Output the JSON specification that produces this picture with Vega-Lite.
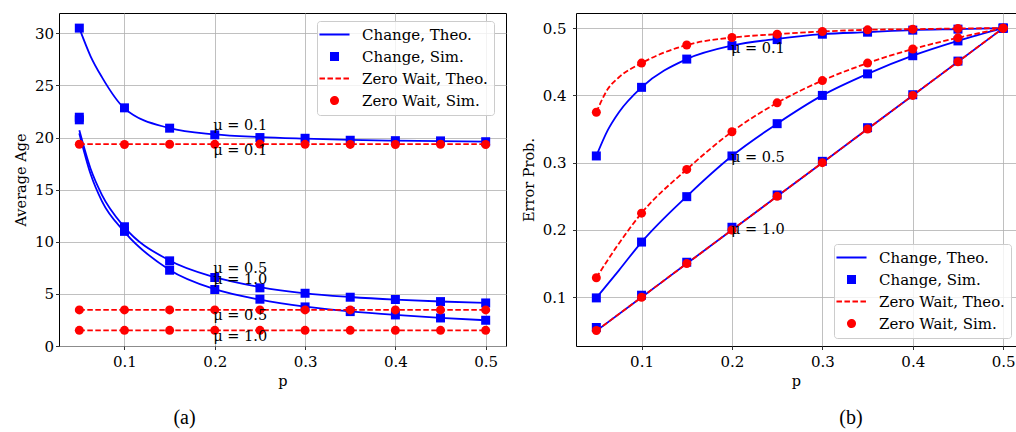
{
"$schema": "https://vega.github.io/schema/vega-lite/v6.json",
"background": "white",
"padding": {"left": 12, "right": 0, "top": 12, "bottom": 0},
"spacing": 13,
"datasets": {
"age": [
{"s":"Change, Theo.","mu":"0.1","p":0.05,"v":30.5},{"s":"Change, Theo.","mu":"0.1","p":0.0625,"v":27.8},{"s":"Change, Theo.","mu":"0.1","p":0.075,"v":25.8},{"s":"Change, Theo.","mu":"0.1","p":0.1,"v":22.8},{"s":"Change, Theo.","mu":"0.1","p":0.15,"v":20.9},{"s":"Change, Theo.","mu":"0.1","p":0.2,"v":20.3},{"s":"Change, Theo.","mu":"0.1","p":0.25,"v":20.05},{"s":"Change, Theo.","mu":"0.1","p":0.3,"v":19.9},{"s":"Change, Theo.","mu":"0.1","p":0.35,"v":19.78},{"s":"Change, Theo.","mu":"0.1","p":0.4,"v":19.7},{"s":"Change, Theo.","mu":"0.1","p":0.45,"v":19.65},{"s":"Change, Theo.","mu":"0.1","p":0.5,"v":19.6},
{"s":"Change, Theo.","mu":"0.5","p":0.05,"v":20.7},{"s":"Change, Theo.","mu":"0.5","p":0.0625,"v":17.0},{"s":"Change, Theo.","mu":"0.5","p":0.075,"v":14.5},{"s":"Change, Theo.","mu":"0.5","p":0.1,"v":11.4},{"s":"Change, Theo.","mu":"0.5","p":0.15,"v":8.2},{"s":"Change, Theo.","mu":"0.5","p":0.2,"v":6.6},{"s":"Change, Theo.","mu":"0.5","p":0.25,"v":5.65},{"s":"Change, Theo.","mu":"0.5","p":0.3,"v":5.05},{"s":"Change, Theo.","mu":"0.5","p":0.35,"v":4.7},{"s":"Change, Theo.","mu":"0.5","p":0.4,"v":4.45},{"s":"Change, Theo.","mu":"0.5","p":0.45,"v":4.27},{"s":"Change, Theo.","mu":"0.5","p":0.5,"v":4.13},
{"s":"Change, Theo.","mu":"1.0","p":0.05,"v":20.4},{"s":"Change, Theo.","mu":"1.0","p":0.0625,"v":16.5},{"s":"Change, Theo.","mu":"1.0","p":0.075,"v":13.9},{"s":"Change, Theo.","mu":"1.0","p":0.1,"v":10.95},{"s":"Change, Theo.","mu":"1.0","p":0.15,"v":7.3},{"s":"Change, Theo.","mu":"1.0","p":0.2,"v":5.45},{"s":"Change, Theo.","mu":"1.0","p":0.25,"v":4.45},{"s":"Change, Theo.","mu":"1.0","p":0.3,"v":3.78},{"s":"Change, Theo.","mu":"1.0","p":0.35,"v":3.32},{"s":"Change, Theo.","mu":"1.0","p":0.4,"v":2.98},{"s":"Change, Theo.","mu":"1.0","p":0.45,"v":2.7},{"s":"Change, Theo.","mu":"1.0","p":0.5,"v":2.47},
{"s":"Change, Sim.","mu":"0.1","p":0.05,"v":30.5},{"s":"Change, Sim.","mu":"0.1","p":0.1,"v":22.85},{"s":"Change, Sim.","mu":"0.1","p":0.15,"v":20.9},{"s":"Change, Sim.","mu":"0.1","p":0.2,"v":20.26},{"s":"Change, Sim.","mu":"0.1","p":0.25,"v":20.0},{"s":"Change, Sim.","mu":"0.1","p":0.3,"v":19.93},{"s":"Change, Sim.","mu":"0.1","p":0.35,"v":19.74},{"s":"Change, Sim.","mu":"0.1","p":0.4,"v":19.7},{"s":"Change, Sim.","mu":"0.1","p":0.45,"v":19.68},{"s":"Change, Sim.","mu":"0.1","p":0.5,"v":19.6},
{"s":"Change, Sim.","mu":"0.5","p":0.05,"v":21.95},{"s":"Change, Sim.","mu":"0.5","p":0.1,"v":11.44},{"s":"Change, Sim.","mu":"0.5","p":0.15,"v":8.17},{"s":"Change, Sim.","mu":"0.5","p":0.2,"v":6.57},{"s":"Change, Sim.","mu":"0.5","p":0.25,"v":5.58},{"s":"Change, Sim.","mu":"0.5","p":0.3,"v":5.06},{"s":"Change, Sim.","mu":"0.5","p":0.35,"v":4.68},{"s":"Change, Sim.","mu":"0.5","p":0.4,"v":4.46},{"s":"Change, Sim.","mu":"0.5","p":0.45,"v":4.26},{"s":"Change, Sim.","mu":"0.5","p":0.5,"v":4.13},
{"s":"Change, Sim.","mu":"1.0","p":0.05,"v":21.7},{"s":"Change, Sim.","mu":"1.0","p":0.1,"v":11.0},{"s":"Change, Sim.","mu":"1.0","p":0.15,"v":7.27},{"s":"Change, Sim.","mu":"1.0","p":0.2,"v":5.42},{"s":"Change, Sim.","mu":"1.0","p":0.25,"v":4.49},{"s":"Change, Sim.","mu":"1.0","p":0.3,"v":3.75},{"s":"Change, Sim.","mu":"1.0","p":0.35,"v":3.3},{"s":"Change, Sim.","mu":"1.0","p":0.4,"v":2.98},{"s":"Change, Sim.","mu":"1.0","p":0.45,"v":2.69},{"s":"Change, Sim.","mu":"1.0","p":0.5,"v":2.47},
{"s":"Zero Wait, Theo.","mu":"0.1","p":0.05,"v":19.36},{"s":"Zero Wait, Theo.","mu":"0.1","p":0.5,"v":19.36},
{"s":"Zero Wait, Theo.","mu":"0.5","p":0.05,"v":3.46},{"s":"Zero Wait, Theo.","mu":"0.5","p":0.5,"v":3.46},
{"s":"Zero Wait, Theo.","mu":"1.0","p":0.05,"v":1.5},{"s":"Zero Wait, Theo.","mu":"1.0","p":0.5,"v":1.5},
{"s":"Zero Wait, Sim.","mu":"0.1","p":0.05,"v":19.36},{"s":"Zero Wait, Sim.","mu":"0.1","p":0.1,"v":19.33},{"s":"Zero Wait, Sim.","mu":"0.1","p":0.15,"v":19.36},{"s":"Zero Wait, Sim.","mu":"0.1","p":0.2,"v":19.35},{"s":"Zero Wait, Sim.","mu":"0.1","p":0.25,"v":19.37},{"s":"Zero Wait, Sim.","mu":"0.1","p":0.3,"v":19.35},{"s":"Zero Wait, Sim.","mu":"0.1","p":0.35,"v":19.34},{"s":"Zero Wait, Sim.","mu":"0.1","p":0.4,"v":19.33},{"s":"Zero Wait, Sim.","mu":"0.1","p":0.45,"v":19.36},{"s":"Zero Wait, Sim.","mu":"0.1","p":0.5,"v":19.33},
{"s":"Zero Wait, Sim.","mu":"0.5","p":0.05,"v":3.46},{"s":"Zero Wait, Sim.","mu":"0.5","p":0.1,"v":3.46},{"s":"Zero Wait, Sim.","mu":"0.5","p":0.15,"v":3.46},{"s":"Zero Wait, Sim.","mu":"0.5","p":0.2,"v":3.46},{"s":"Zero Wait, Sim.","mu":"0.5","p":0.25,"v":3.46},{"s":"Zero Wait, Sim.","mu":"0.5","p":0.3,"v":3.46},{"s":"Zero Wait, Sim.","mu":"0.5","p":0.35,"v":3.46},{"s":"Zero Wait, Sim.","mu":"0.5","p":0.4,"v":3.46},{"s":"Zero Wait, Sim.","mu":"0.5","p":0.45,"v":3.46},{"s":"Zero Wait, Sim.","mu":"0.5","p":0.5,"v":3.46},
{"s":"Zero Wait, Sim.","mu":"1.0","p":0.05,"v":1.5},{"s":"Zero Wait, Sim.","mu":"1.0","p":0.1,"v":1.5},{"s":"Zero Wait, Sim.","mu":"1.0","p":0.15,"v":1.5},{"s":"Zero Wait, Sim.","mu":"1.0","p":0.2,"v":1.5},{"s":"Zero Wait, Sim.","mu":"1.0","p":0.25,"v":1.5},{"s":"Zero Wait, Sim.","mu":"1.0","p":0.3,"v":1.5},{"s":"Zero Wait, Sim.","mu":"1.0","p":0.35,"v":1.5},{"s":"Zero Wait, Sim.","mu":"1.0","p":0.4,"v":1.5},{"s":"Zero Wait, Sim.","mu":"1.0","p":0.45,"v":1.5},{"s":"Zero Wait, Sim.","mu":"1.0","p":0.5,"v":1.5}
],
"err": [
{"s":"Change, Theo.","mu":"0.1","p":0.05,"v":0.31},{"s":"Change, Theo.","mu":"0.1","p":0.0625,"v":0.348},{"s":"Change, Theo.","mu":"0.1","p":0.075,"v":0.375},{"s":"Change, Theo.","mu":"0.1","p":0.1,"v":0.412},{"s":"Change, Theo.","mu":"0.1","p":0.15,"v":0.454},{"s":"Change, Theo.","mu":"0.1","p":0.2,"v":0.474},{"s":"Change, Theo.","mu":"0.1","p":0.25,"v":0.484},{"s":"Change, Theo.","mu":"0.1","p":0.3,"v":0.491},{"s":"Change, Theo.","mu":"0.1","p":0.35,"v":0.494},{"s":"Change, Theo.","mu":"0.1","p":0.4,"v":0.497},{"s":"Change, Theo.","mu":"0.1","p":0.45,"v":0.4985},{"s":"Change, Theo.","mu":"0.1","p":0.5,"v":0.5},
{"s":"Change, Theo.","mu":"0.5","p":0.05,"v":0.099},{"s":"Change, Theo.","mu":"0.5","p":0.075,"v":0.14},{"s":"Change, Theo.","mu":"0.5","p":0.1,"v":0.182},{"s":"Change, Theo.","mu":"0.5","p":0.15,"v":0.25},{"s":"Change, Theo.","mu":"0.5","p":0.2,"v":0.31},{"s":"Change, Theo.","mu":"0.5","p":0.25,"v":0.358},{"s":"Change, Theo.","mu":"0.5","p":0.3,"v":0.4},{"s":"Change, Theo.","mu":"0.5","p":0.35,"v":0.432},{"s":"Change, Theo.","mu":"0.5","p":0.4,"v":0.459},{"s":"Change, Theo.","mu":"0.5","p":0.45,"v":0.481},{"s":"Change, Theo.","mu":"0.5","p":0.5,"v":0.5},
{"s":"Change, Theo.","mu":"1.0","p":0.05,"v":0.05},{"s":"Change, Theo.","mu":"1.0","p":0.1,"v":0.1},{"s":"Change, Theo.","mu":"1.0","p":0.15,"v":0.15},{"s":"Change, Theo.","mu":"1.0","p":0.2,"v":0.2},{"s":"Change, Theo.","mu":"1.0","p":0.25,"v":0.25},{"s":"Change, Theo.","mu":"1.0","p":0.3,"v":0.3},{"s":"Change, Theo.","mu":"1.0","p":0.35,"v":0.35},{"s":"Change, Theo.","mu":"1.0","p":0.4,"v":0.4},{"s":"Change, Theo.","mu":"1.0","p":0.45,"v":0.45},{"s":"Change, Theo.","mu":"1.0","p":0.5,"v":0.5},
{"s":"Change, Sim.","mu":"0.1","p":0.05,"v":0.31},{"s":"Change, Sim.","mu":"0.1","p":0.1,"v":0.412},{"s":"Change, Sim.","mu":"0.1","p":0.15,"v":0.454},{"s":"Change, Sim.","mu":"0.1","p":0.2,"v":0.474},{"s":"Change, Sim.","mu":"0.1","p":0.25,"v":0.483},{"s":"Change, Sim.","mu":"0.1","p":0.3,"v":0.491},{"s":"Change, Sim.","mu":"0.1","p":0.35,"v":0.494},{"s":"Change, Sim.","mu":"0.1","p":0.4,"v":0.497},{"s":"Change, Sim.","mu":"0.1","p":0.45,"v":0.4985},{"s":"Change, Sim.","mu":"0.1","p":0.5,"v":0.5},
{"s":"Change, Sim.","mu":"0.5","p":0.05,"v":0.099},{"s":"Change, Sim.","mu":"0.5","p":0.1,"v":0.182},{"s":"Change, Sim.","mu":"0.5","p":0.15,"v":0.2495},{"s":"Change, Sim.","mu":"0.5","p":0.2,"v":0.31},{"s":"Change, Sim.","mu":"0.5","p":0.25,"v":0.358},{"s":"Change, Sim.","mu":"0.5","p":0.3,"v":0.4},{"s":"Change, Sim.","mu":"0.5","p":0.35,"v":0.432},{"s":"Change, Sim.","mu":"0.5","p":0.4,"v":0.459},{"s":"Change, Sim.","mu":"0.5","p":0.45,"v":0.481},{"s":"Change, Sim.","mu":"0.5","p":0.5,"v":0.5},
{"s":"Change, Sim.","mu":"1.0","p":0.05,"v":0.055},{"s":"Change, Sim.","mu":"1.0","p":0.1,"v":0.103},{"s":"Change, Sim.","mu":"1.0","p":0.15,"v":0.152},{"s":"Change, Sim.","mu":"1.0","p":0.2,"v":0.204},{"s":"Change, Sim.","mu":"1.0","p":0.25,"v":0.252},{"s":"Change, Sim.","mu":"1.0","p":0.3,"v":0.302},{"s":"Change, Sim.","mu":"1.0","p":0.35,"v":0.352},{"s":"Change, Sim.","mu":"1.0","p":0.4,"v":0.401},{"s":"Change, Sim.","mu":"1.0","p":0.45,"v":0.451},{"s":"Change, Sim.","mu":"1.0","p":0.5,"v":0.5},
{"s":"Zero Wait, Theo.","mu":"0.1","p":0.05,"v":0.375},{"s":"Zero Wait, Theo.","mu":"0.1","p":0.0625,"v":0.409},{"s":"Zero Wait, Theo.","mu":"0.1","p":0.075,"v":0.427},{"s":"Zero Wait, Theo.","mu":"0.1","p":0.1,"v":0.448},{"s":"Zero Wait, Theo.","mu":"0.1","p":0.15,"v":0.475},{"s":"Zero Wait, Theo.","mu":"0.1","p":0.2,"v":0.486},{"s":"Zero Wait, Theo.","mu":"0.1","p":0.25,"v":0.491},{"s":"Zero Wait, Theo.","mu":"0.1","p":0.3,"v":0.495},{"s":"Zero Wait, Theo.","mu":"0.1","p":0.35,"v":0.4975},{"s":"Zero Wait, Theo.","mu":"0.1","p":0.4,"v":0.4985},{"s":"Zero Wait, Theo.","mu":"0.1","p":0.45,"v":0.4995},{"s":"Zero Wait, Theo.","mu":"0.1","p":0.5,"v":0.5},
{"s":"Zero Wait, Theo.","mu":"0.5","p":0.05,"v":0.129},{"s":"Zero Wait, Theo.","mu":"0.5","p":0.075,"v":0.18},{"s":"Zero Wait, Theo.","mu":"0.5","p":0.1,"v":0.225},{"s":"Zero Wait, Theo.","mu":"0.5","p":0.15,"v":0.29},{"s":"Zero Wait, Theo.","mu":"0.5","p":0.2,"v":0.346},{"s":"Zero Wait, Theo.","mu":"0.5","p":0.25,"v":0.389},{"s":"Zero Wait, Theo.","mu":"0.5","p":0.3,"v":0.422},{"s":"Zero Wait, Theo.","mu":"0.5","p":0.35,"v":0.448},{"s":"Zero Wait, Theo.","mu":"0.5","p":0.4,"v":0.469},{"s":"Zero Wait, Theo.","mu":"0.5","p":0.45,"v":0.4856},{"s":"Zero Wait, Theo.","mu":"0.5","p":0.5,"v":0.5},
{"s":"Zero Wait, Theo.","mu":"1.0","p":0.05,"v":0.05},{"s":"Zero Wait, Theo.","mu":"1.0","p":0.1,"v":0.1},{"s":"Zero Wait, Theo.","mu":"1.0","p":0.15,"v":0.15},{"s":"Zero Wait, Theo.","mu":"1.0","p":0.2,"v":0.2},{"s":"Zero Wait, Theo.","mu":"1.0","p":0.25,"v":0.25},{"s":"Zero Wait, Theo.","mu":"1.0","p":0.3,"v":0.3},{"s":"Zero Wait, Theo.","mu":"1.0","p":0.35,"v":0.35},{"s":"Zero Wait, Theo.","mu":"1.0","p":0.4,"v":0.4},{"s":"Zero Wait, Theo.","mu":"1.0","p":0.45,"v":0.45},{"s":"Zero Wait, Theo.","mu":"1.0","p":0.5,"v":0.5},
{"s":"Zero Wait, Sim.","mu":"0.1","p":0.05,"v":0.375},{"s":"Zero Wait, Sim.","mu":"0.1","p":0.1,"v":0.448},{"s":"Zero Wait, Sim.","mu":"0.1","p":0.15,"v":0.475},{"s":"Zero Wait, Sim.","mu":"0.1","p":0.2,"v":0.486},{"s":"Zero Wait, Sim.","mu":"0.1","p":0.25,"v":0.491},{"s":"Zero Wait, Sim.","mu":"0.1","p":0.3,"v":0.495},{"s":"Zero Wait, Sim.","mu":"0.1","p":0.35,"v":0.4975},{"s":"Zero Wait, Sim.","mu":"0.1","p":0.4,"v":0.4985},{"s":"Zero Wait, Sim.","mu":"0.1","p":0.45,"v":0.4995},{"s":"Zero Wait, Sim.","mu":"0.1","p":0.5,"v":0.5},
{"s":"Zero Wait, Sim.","mu":"0.5","p":0.05,"v":0.129},{"s":"Zero Wait, Sim.","mu":"0.5","p":0.1,"v":0.225},{"s":"Zero Wait, Sim.","mu":"0.5","p":0.15,"v":0.29},{"s":"Zero Wait, Sim.","mu":"0.5","p":0.2,"v":0.346},{"s":"Zero Wait, Sim.","mu":"0.5","p":0.25,"v":0.389},{"s":"Zero Wait, Sim.","mu":"0.5","p":0.3,"v":0.422},{"s":"Zero Wait, Sim.","mu":"0.5","p":0.35,"v":0.448},{"s":"Zero Wait, Sim.","mu":"0.5","p":0.4,"v":0.469},{"s":"Zero Wait, Sim.","mu":"0.5","p":0.45,"v":0.4856},{"s":"Zero Wait, Sim.","mu":"0.5","p":0.5,"v":0.5},
{"s":"Zero Wait, Sim.","mu":"1.0","p":0.05,"v":0.0505},{"s":"Zero Wait, Sim.","mu":"1.0","p":0.1,"v":0.1},{"s":"Zero Wait, Sim.","mu":"1.0","p":0.15,"v":0.15},{"s":"Zero Wait, Sim.","mu":"1.0","p":0.2,"v":0.2},{"s":"Zero Wait, Sim.","mu":"1.0","p":0.25,"v":0.25},{"s":"Zero Wait, Sim.","mu":"1.0","p":0.3,"v":0.3},{"s":"Zero Wait, Sim.","mu":"1.0","p":0.35,"v":0.35},{"s":"Zero Wait, Sim.","mu":"1.0","p":0.4,"v":0.4},{"s":"Zero Wait, Sim.","mu":"1.0","p":0.45,"v":0.45},{"s":"Zero Wait, Sim.","mu":"1.0","p":0.5,"v":0.5}
],
"agelab": [
{"t":"μ = 0.1","p":0.2,"v":20.77},{"t":"μ = 0.1","p":0.2,"v":18.37},{"t":"μ = 0.5","p":0.2,"v":7.05},{"t":"μ = 1.0","p":0.2,"v":5.99},{"t":"μ = 0.5","p":0.2,"v":2.47},{"t":"μ = 1.0","p":0.2,"v":0.48}
],
"errlab": [
{"t":"μ = 0.1","p":0.2,"v":0.4633},{"t":"μ = 0.5","p":0.2,"v":0.3005},{"t":"μ = 1.0","p":0.2,"v":0.1945}
]
},
"hconcat": [
{
"width": 447, "height": 333,
"data": {"name": "age"},
"title": {"text": "(a)", "orient": "bottom", "anchor": "middle", "frame": "group", "dx": -98, "offset": 20, "font": "Liberation Serif", "fontSize": 20, "fontWeight": "normal", "color": "black"},
"encoding": {
"x": {"field": "p", "type": "quantitative", "scale": {"domain": [0.0275, 0.5225], "nice": false, "zero": false}, "axis": {"values": [0.1, 0.2, 0.3, 0.4, 0.5], "format": ".1f", "title": "p"}},
"y": {"field": "v", "type": "quantitative", "scale": {"domain": [0, 31.95], "nice": false, "zero": false}, "axis": {"values": [0, 5, 10, 15, 20, 25, 30], "title": "Average Age", "labelPadding": 2}},
"color": {"field": "s", "type": "nominal",
 "scale": {"domain": ["Change, Theo.", "Change, Sim.", "Zero Wait, Theo.", "Zero Wait, Sim."], "range": ["#0000ff", "#0000ff", "#ff0000", "#ff0000"]},
 "legend": {"title": null, "orient": "none", "legendX": 258, "legendY": 8, "padding": 6, "rowPadding": 6,
  "labelFont": "DejaVu Serif", "labelFontSize": 15, "labelColor": "black", "labelBaseline": "middle",
  "symbolSize": 52, "symbolStrokeWidth": 1.8, "symbolOffset": 4, "labelOffset": 20,
  "strokeColor": "#cccccc", "fillColor": "rgba(255,255,255,0.8)", "cornerRadius": 3,
  "encode": {"symbols": {"update": {
   "shape": {"signal": "datum.value === 'Change, Sim.' ? 'square' : datum.value === 'Zero Wait, Sim.' ? 'circle' : 'M-4.17,0H4.17'"},
   "fill": {"signal": "indexof(datum.value, 'Change') === 0 ? '#0000ff' : '#ff0000'"},
   "stroke": {"signal": "indexof(datum.value, 'Change') === 0 ? '#0000ff' : '#ff0000'"},
   "strokeWidth": {"value": 1.8},
   "size": {"value": 52},
   "strokeDash": {"signal": "datum.value === 'Zero Wait, Theo.' ? [5.5, 2.5] : [1, 0]"},
   "opacity": {"value": 1}, "fillOpacity": {"value": 1}, "strokeOpacity": {"value": 1}
  }}}}}
},
"layer": [
{"transform": [{"filter": "datum.s === 'Change, Theo.'"}], "mark": {"type": "line", "strokeWidth": 1.8, "interpolate": "monotone"}, "encoding": {"detail": {"field": "mu"}}},
{"transform": [{"filter": "datum.s === 'Change, Sim.'"}], "mark": {"type": "point", "shape": "square", "filled": true, "size": 81, "opacity": 1}},
{"transform": [{"filter": "datum.s === 'Zero Wait, Theo.'"}], "mark": {"type": "line", "strokeWidth": 1.8, "strokeDash": [5.5, 2.5]}, "encoding": {"detail": {"field": "mu"}}},
{"transform": [{"filter": "datum.s === 'Zero Wait, Sim.'"}], "mark": {"type": "point", "shape": "circle", "filled": true, "size": 81, "opacity": 1}},
{"data": {"name": "agelab"}, "mark": {"type": "text", "align": "left", "baseline": "alphabetic", "font": "DejaVu Serif", "fontSize": 14.5, "dx": -1.5}, "encoding": {"text": {"field": "t"}, "color": {"value": "black"}}}
]
},
{
"width": 440, "height": 333,
"data": {"name": "err"},
"title": {"text": "(b)", "orient": "bottom", "anchor": "middle", "frame": "group", "dx": 55, "offset": 20, "font": "Liberation Serif", "fontSize": 20, "fontWeight": "normal", "color": "black"},
"encoding": {
"x": {"field": "p", "type": "quantitative", "scale": {"domain": [0.0275, 0.5142], "nice": false, "zero": false}, "axis": {"values": [0.1, 0.2, 0.3, 0.4, 0.5], "format": ".1f", "title": "p"}},
"y": {"field": "v", "type": "quantitative", "scale": {"domain": [0.0275, 0.5225], "nice": false, "zero": false}, "axis": {"values": [0.1, 0.2, 0.3, 0.4, 0.5], "format": ".1f", "title": "Error Prob.", "labelPadding": 6.5}},
"color": {"field": "s", "type": "nominal",
 "scale": {"domain": ["Change, Theo.", "Change, Sim.", "Zero Wait, Theo.", "Zero Wait, Sim."], "range": ["#0000ff", "#0000ff", "#ff0000", "#ff0000"]},
 "legend": {"title": null, "orient": "none", "legendX": 258, "legendY": 231, "padding": 6, "rowPadding": 6,
  "labelFont": "DejaVu Serif", "labelFontSize": 15, "labelColor": "black", "labelBaseline": "middle",
  "symbolSize": 52, "symbolStrokeWidth": 1.8, "symbolOffset": 4, "labelOffset": 20,
  "strokeColor": "#cccccc", "fillColor": "rgba(255,255,255,0.8)", "cornerRadius": 3,
  "encode": {"symbols": {"update": {
   "shape": {"signal": "datum.value === 'Change, Sim.' ? 'square' : datum.value === 'Zero Wait, Sim.' ? 'circle' : 'M-4.17,0H4.17'"},
   "fill": {"signal": "indexof(datum.value, 'Change') === 0 ? '#0000ff' : '#ff0000'"},
   "stroke": {"signal": "indexof(datum.value, 'Change') === 0 ? '#0000ff' : '#ff0000'"},
   "strokeWidth": {"value": 1.8},
   "size": {"value": 52},
   "strokeDash": {"signal": "datum.value === 'Zero Wait, Theo.' ? [5.5, 2.5] : [1, 0]"},
   "opacity": {"value": 1}, "fillOpacity": {"value": 1}, "strokeOpacity": {"value": 1}
  }}}}}
},
"layer": [
{"transform": [{"filter": "datum.s === 'Change, Theo.'"}], "mark": {"type": "line", "strokeWidth": 1.8, "interpolate": "monotone"}, "encoding": {"detail": {"field": "mu"}}},
{"transform": [{"filter": "datum.s === 'Change, Sim.'"}], "mark": {"type": "point", "shape": "square", "filled": true, "size": 81, "opacity": 1}},
{"transform": [{"filter": "datum.s === 'Zero Wait, Theo.'"}], "mark": {"type": "line", "strokeWidth": 1.8, "strokeDash": [5.5, 2.5], "interpolate": "monotone"}, "encoding": {"detail": {"field": "mu"}}},
{"transform": [{"filter": "datum.s === 'Zero Wait, Sim.'"}], "mark": {"type": "point", "shape": "circle", "filled": true, "size": 81, "opacity": 1}},
{"data": {"name": "errlab"}, "mark": {"type": "text", "align": "left", "baseline": "alphabetic", "font": "DejaVu Serif", "fontSize": 14.5, "dx": -1}, "encoding": {"text": {"field": "t"}, "color": {"value": "black"}}}
]
}
],
"resolve": {"scale": {"color": "independent"}, "legend": {"color": "independent"}},
"config": {
"view": {"stroke": "black", "strokeWidth": 1},
"font": "DejaVu Serif",
"axis": {"labelFont": "DejaVu Serif", "labelFontSize": 15, "labelColor": "black", "titleFont": "DejaVu Serif", "titleFontSize": 14.5, "titleFontWeight": "normal", "titleColor": "black", "tickColor": "black", "tickSize": 3.5, "tickWidth": 0.8, "domain": false, "gridColor": "#b0b0b0", "gridWidth": 0.8, "gridOpacity": 1},
"axisX": {"labelPadding": 5, "titlePadding": 5},
"axisY": {"titlePadding": 6}
}
}
